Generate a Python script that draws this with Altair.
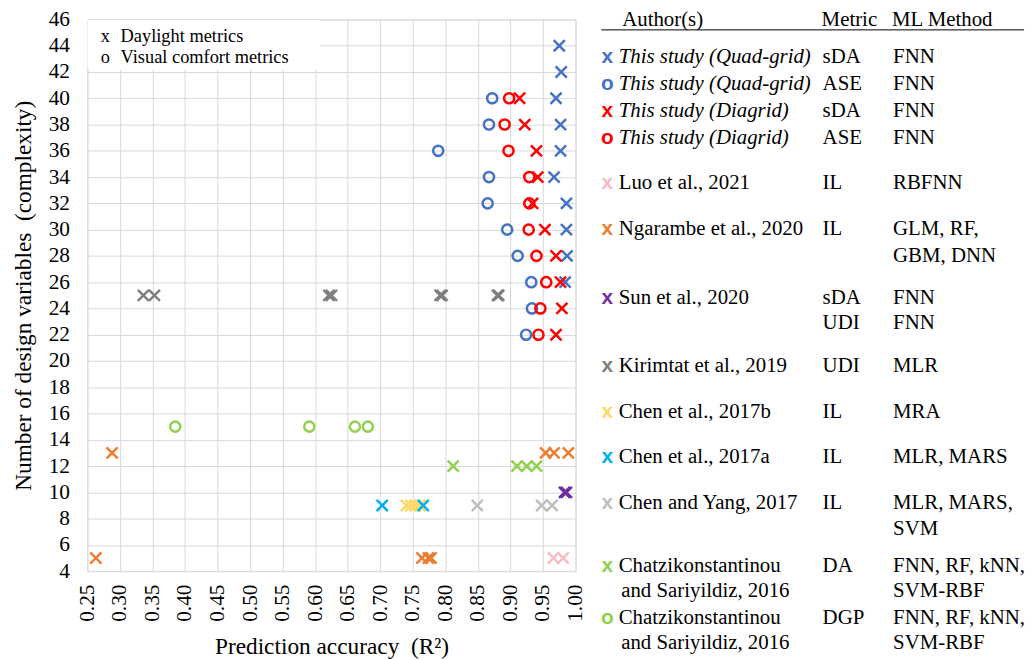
import altair as alt
import pandas as pd

# ---------------- data ----------------
series_names = ["Quad sDA", "Quad ASE", "Diagrid sDA", "Diagrid ASE", "Luo 2021",
                "Ngarambe 2020", "Sun 2020", "Kirimtat 2019", "Chen 2017b",
                "Chen 2017a", "Chen Yang 2017", "Chatz DA", "Chatz DGP"]
series_kinds = ["x", "o", "x", "o", "x", "x", "x", "x", "x", "x", "x", "x", "o"]

quad_sda_r2 = [0.975, 0.978, 0.970, 0.977, 0.977, 0.967, 0.986, 0.986, 0.987, 0.984]
quad_sda_n = [44, 42, 40, 38, 36, 34, 32, 30, 28, 26]
quad_ase_r2 = [0.872, 0.867, 0.789, 0.867, 0.865, 0.895, 0.911, 0.932, 0.933, 0.924]
quad_ase_n = [40, 38, 36, 34, 32, 30, 28, 26, 24, 22]
dia_sda_r2 = [0.914, 0.922, 0.940, 0.942, 0.934, 0.953, 0.970, 0.977, 0.979, 0.970]
dia_sda_n = [40, 38, 36, 34, 32, 30, 28, 26, 24, 22]
dia_ase_r2 = [0.898, 0.891, 0.897, 0.929, 0.929, 0.928, 0.940, 0.955, 0.946, 0.943]
dia_ase_n = [40, 38, 36, 34, 32, 30, 28, 26, 24, 22]
luo_r2 = [0.966, 0.981]
luo_n = [5, 5]
ngarambe_r2 = [0.263, 0.288, 0.764, 0.774, 0.778, 0.954, 0.967, 0.989]
ngarambe_n = [5, 13, 5, 5, 5, 13, 13, 13]
sun_r2 = [0.983, 0.986]
sun_n = [10, 10]
kirimtat_r2 = [0.336, 0.353, 0.621, 0.625, 0.792, 0.795, 0.880, 0.882]
kirimtat_n = [25, 25, 25, 25, 25, 25, 25, 25]
chen_b_r2 = [0.740, 0.747, 0.754, 0.761]
chen_b_n = [9, 9, 9, 9]
chen_a_r2 = [0.703, 0.766]
chen_a_n = [9, 9]
chen_yang_r2 = [0.849, 0.948, 0.964]
chen_yang_n = [9, 9, 9]
chatz_da_r2 = [0.812, 0.910, 0.925, 0.940]
chatz_da_n = [12, 12, 12, 12]
chatz_dgp_r2 = [0.385, 0.591, 0.661, 0.681]
chatz_dgp_n = [15, 15, 15, 15]

series_values = [
    (quad_sda_r2, quad_sda_n), (quad_ase_r2, quad_ase_n),
    (dia_sda_r2, dia_sda_n), (dia_ase_r2, dia_ase_n),
    (luo_r2, luo_n), (ngarambe_r2, ngarambe_n), (sun_r2, sun_n),
    (kirimtat_r2, kirimtat_n), (chen_b_r2, chen_b_n), (chen_a_r2, chen_a_n),
    (chen_yang_r2, chen_yang_n), (chatz_da_r2, chatz_da_n), (chatz_dgp_r2, chatz_dgp_n),
]

x_ticks = [0.25, 0.30, 0.35, 0.40, 0.45, 0.50, 0.55, 0.60, 0.65, 0.70,
           0.75, 0.80, 0.85, 0.90, 0.95, 1.00]
y_ticks = [4, 6, 8, 10, 12, 14, 16, 18, 20, 22, 24, 26, 28, 30, 32, 34, 36,
           38, 40, 42, 44, 46]

# table on the right
table_header = ["Author(s)", "Metric", "ML Method"]
table_series = ["Quad sDA", "Quad ASE", "Diagrid sDA", "Diagrid ASE", "Luo 2021",
                "Ngarambe 2020", None, "Sun 2020", None, "Kirimtat 2019",
                "Chen 2017b", "Chen 2017a", "Chen Yang 2017", None,
                "Chatz DA", None, "Chatz DGP", None]
table_authors = ["This study (Quad-grid)", "This study (Quad-grid)",
                 "This study (Diagrid)", "This study (Diagrid)",
                 "Luo et al., 2021", "Ngarambe et al., 2020", "",
                 "Sun et al., 2020", "", "Kirimtat et al., 2019",
                 "Chen et al., 2017b", "Chen et al., 2017a",
                 "Chen and Yang, 2017", "",
                 "Chatzikonstantinou", "and Sariyildiz, 2016",
                 "Chatzikonstantinou", "and Sariyildiz, 2016"]
table_metrics = ["sDA", "ASE", "sDA", "ASE", "IL", "IL", "", "sDA", "UDI", "UDI",
                 "IL", "IL", "IL", "", "DA", "", "DGP", ""]
table_methods = ["FNN", "FNN", "FNN", "FNN", "RBFNN", "GLM, RF,", "GBM, DNN",
                 "FNN", "FNN", "MLR", "MRA", "MLR, MARS", "MLR, MARS,", "SVM",
                 "FNN, RF, kNN,", "SVM-RBF", "FNN, RF, kNN,", "SVM-RBF"]
table_italic = [True, True, True, True] + [False] * 14

# ---------------- styles / layout ----------------
series_colors = ["#4472C4", "#4472C4", "#FF0000", "#FF0000", "#F8BCC4",
                 "#ED7D31", "#7030A0", "#7F7F7F", "#FFD966", "#00B0F0",
                 "#BFBFBF", "#92D050", "#92D050"]
XPATH = "M-1,-1L1,1M-1,1L1,-1"
SERIF = "Liberation Serif"

line_y = [55, 81.7, 109.3, 136.7, 182.3, 228.3, 255, 297.3, 323, 366.7,
          412.7, 458.3, 504, 530.7, 567.7, 593.3, 620, 645]
col_marker, col_author, col_author_cont, col_metric, col_method = 612, 623.5, 626, 829, 900
header_x = [627, 828, 899]
header_y = 18

# ---------------- build tables ----------------
pts = []
for name, kind, (xs, ys) in zip(series_names, series_kinds, series_values):
    for xv, yv in zip(xs, ys):
        pts.append({"series": name, "kind": kind, "r2": xv, "n": yv})
df_pts = pd.DataFrame(pts)

kind_of = dict(zip(series_names, series_kinds))

texts = []
for t, xx in zip(table_header, header_x):
    texts.append({"px": xx, "py": header_y, "text": t, "style": "normal"})
for i, (s, a, m, meth, it) in enumerate(zip(table_series, table_authors, table_metrics,
                                             table_methods, table_italic)):
    yy = line_y[i]
    if a:
        texts.append({"px": col_author if s else col_author_cont, "py": yy, "text": a,
                      "style": "italic" if it else "normal"})
    if m:
        texts.append({"px": col_metric, "py": yy, "text": m, "style": "normal"})
    if meth:
        texts.append({"px": col_method, "py": yy, "text": meth, "style": "normal"})
df_text = pd.DataFrame(texts)

markers = []
for i, s in enumerate(table_series):
    if s:
        markers.append({"px": col_marker, "py": line_y[i], "series": s,
                        "glyph": kind_of[s]})
df_markers = pd.DataFrame(markers)

df_legend = pd.DataFrame({
    "px": [101.5, 121.5, 101.5, 121.5],
    "py": [33.5, 33.5, 55, 55],
    "text": ["x", "Daylight metrics", "o", "Visual comfort metrics"],
})
df_rule = pd.DataFrame({"px": [606], "px2": [1032], "py": [27.5]})
df_box = pd.DataFrame({"x": [0.2503], "x2": [0.608], "y": [42.2], "y2": [45.96]})

# ---------------- chart ----------------
xscale = alt.Scale(domain=[0.25, 1.0], nice=False, zero=False)
yscale = alt.Scale(domain=[4, 46], nice=False, zero=False)
color_scale = alt.Scale(domain=series_names, range=series_colors)

box = alt.Chart(df_box).mark_rect(color="white").encode(
    x=alt.X("x:Q", scale=xscale), x2="x2", y=alt.Y("y:Q", scale=yscale), y2="y2")

points = alt.Chart(df_pts).mark_point(filled=False, strokeWidth=2.5, opacity=1).encode(
    x=alt.X("r2:Q", scale=xscale,
            axis=alt.Axis(values=x_ticks, tickCount=len(x_ticks), format=".2f",
                          labelAngle=-90, labelPadding=13,
                          title="Prediction accuracy\u00a0 (R²)",
                          titlePadding=13, labelFlush=False, labelOverlap=False)),
    y=alt.Y("n:Q", scale=yscale,
            axis=alt.Axis(values=y_ticks, tickCount=len(y_ticks), labelPadding=18,
                          title="Number of design variables\u00a0 (complexity)",
                          titlePadding=13, labelFlush=False, labelOverlap=False)),
    color=alt.Color("series:N", scale=color_scale, legend=None),
    shape=alt.Shape("kind:N", scale=alt.Scale(domain=["x", "o"], range=[XPATH, "circle"]),
                    legend=None),
    size=alt.Size("kind:O", scale=alt.Scale(domain=["x", "o"], range=[125, 105]),
                  legend=None),
)

plot = alt.layer(box, points)

PX = alt.Scale(domain=[0, 1035], range=[-88, 947])
PY = alt.Scale(domain=[0, 660], range=[-17, 643])

tx = alt.X("px:Q", scale=PX, axis=None)
ty = alt.Y("py:Q", scale=PY, axis=None)

t_normal = alt.Chart(df_text).transform_filter("datum.style == 'normal'").mark_text(
    align="left", baseline="middle", font=SERIF, fontSize=21, color="black"
).encode(x=tx, y=ty, text="text:N")
t_italic = alt.Chart(df_text).transform_filter("datum.style == 'italic'").mark_text(
    align="left", baseline="middle", font=SERIF, fontSize=21, fontStyle="italic",
    color="black"
).encode(x=tx, y=ty, text="text:N")
t_markers = alt.Chart(df_markers).mark_text(
    align="center", baseline="middle", font="Liberation Sans", fontWeight="bold",
    fontSize=21
).encode(x=tx, y=ty, text="glyph:N",
         color=alt.Color("series:N", scale=color_scale, legend=None))
t_legend = alt.Chart(df_legend).mark_text(
    align="left", baseline="middle", font=SERIF, fontSize=18.5, color="black"
).encode(x=tx, y=ty, text="text:N")
rule = alt.Chart(df_rule).mark_rule(color="black", strokeWidth=1).encode(
    x=tx, x2="px2", y=ty)

annot = alt.layer(rule, t_normal, t_italic, t_markers, t_legend)

chart = alt.layer(plot, annot).resolve_scale(
    x="independent", y="independent", color="independent"
).properties(
    width=492, height=556,
    autosize=alt.AutoSizeParams(type="none"),
    padding={"left": 80, "top": 9, "right": 455, "bottom": 87},
).configure_view(
    stroke="#D9D9D9", strokeWidth=1
).configure_axis(
    grid=True, gridColor="#D9D9D9", gridWidth=1, domain=False, ticks=False,
    labelFont=SERIF, labelFontSize=21.5, labelColor="black",
    titleFont=SERIF, titleFontSize=23.5, titleFontWeight="normal", titleColor="black",
)

chart.save("out.html", embed_options={"renderer": "svg", "actions": False})
